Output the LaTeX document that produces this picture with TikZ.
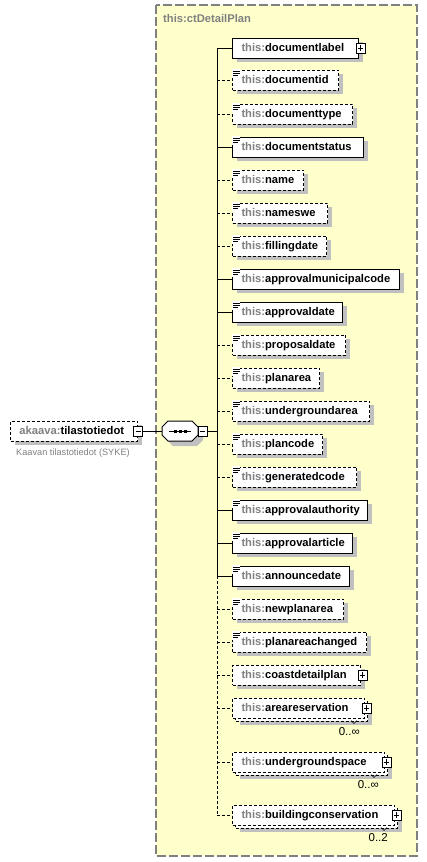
\documentclass[tikz,border=0pt]{standalone}
\usepackage{fontspec}
\setmainfont{Liberation Sans}
\usetikzlibrary{shadows}
\definecolor{ctyellow}{RGB}{255,255,204}
\definecolor{ctgray}{RGB}{128,128,128}
\definecolor{shadegray}{RGB}{192,192,192}
\newcommand{\thispre}{\textcolor{ctgray}{this:}}
\begin{document}
\begin{tikzpicture}[x=1pt, y=-1pt,
    elbase/.style = {draw, fill=white, line width=1pt, inner xsep=9pt, inner ysep=0pt,
        minimum height=20pt, text height=9pt, text depth=2pt, anchor=west,
        font=\fontsize{11.2}{13}\selectfont\bfseries},
    elem/.style = {elbase, drop shadow={shadow xshift=4pt, shadow yshift=-4pt, fill=shadegray, opacity=1}},
    multielem/.style = {elbase,
        drop shadow={shadow xshift=7pt, shadow yshift=-7pt, fill=shadegray, opacity=1},
        copy shadow={shadow xshift=3pt, shadow yshift=-3pt, draw=black, fill=white, line width=1pt, opt}},
    opt/.style = {dash pattern=on 3pt off 2pt},
    req/.style = {solid},
    link/.style = {line width=1pt},
    mult/.style = {inner sep=0pt, font=\fontsize{11.5}{13}\selectfont},
    seqbox/.style = {inner sep=0pt, minimum width=36pt, minimum height=20pt},
    docicon/.pic = {
        \fill[white] (-0.5,-0.5) rectangle (8,8);
        \draw[line width=1pt] (1,2) -- (8,2) (1,4) -- (8,4) (1,6) -- (6,6);
    },
    plusbox/.pic = {
        \draw[fill=white, line width=0.8pt, solid] (-4.5,-5) rectangle (4.5,5);
        \draw[line width=0.8pt, solid] (-2.5,0) -- (2.5,0) (0,-3) -- (0,3);
    },
    minusbox/.pic = {
        \draw[fill=white, line width=0.8pt, solid] (-4.5,-5) rectangle (4.5,5);
        \draw[line width=0.8pt, solid] (-2.5,0) -- (2.5,0);
    },
    octagon/.pic = {
        \path[pic actions] (-12,-10) -- (12,-10) -- (18,-4) -- (18,4) -- (12,10)
            -- (-12,10) -- (-18,4) -- (-18,-4) -- cycle;
    }]
    \useasboundingbox (0,0) rectangle (427,862);

    % complex type frame
    \draw[draw=ctgray, fill=ctyellow, line width=1.3pt, dash pattern=on 9pt off 3pt] (156,5) rectangle (417,856);
    \node[anchor=west, inner sep=0pt, text=ctgray, font=\fontsize{11.2}{13}\selectfont\bfseries] (ctname) at (163,18) {this:ctDetailPlan};

    % root element and sequence
    \node[elem, opt] (tilastotiedot) at (10,431) {\makebox[109pt][l]{\textcolor{ctgray}{akaava:}tilastotiedot}};
    \node[anchor=west, inner sep=0pt, text=ctgray, font=\fontsize{9.2}{11}\selectfont] (tilastodoc) at (16,453) {Kaavan tilastotiedot (SYKE)};
    \node[seqbox] (seq) at (180,431) {};
    \coordinate (fork) at (217,431);
    \draw[link] (tilastotiedot.east) -- (seq.west);
    \draw[link] (seq.east) -- (fork);
    \pic[fill=shadegray] at ([shift={(5,5)}]seq.center) {octagon};
    \pic[draw, fill=white, line width=1pt] at (seq.center) {octagon};
    \draw[link] ([xshift=-11pt]seq.center) -- ([xshift=11pt]seq.center);
    \foreach \dx in {-5,0,5}
        \fill ([xshift=\dx pt]seq.center) +(-1.5,-1.5) rectangle +(1.5,1.5);
    \pic at (tilastotiedot.east) {minusbox};
    \pic at ([xshift=4.5pt]seq.east) {minusbox};

    % simple elements
    \foreach \nm/\yy/\ww/\ls [evaluate=\ww as \tw using \ww-18] in {
        documentid/80/106/opt, documenttype/114/120/opt, documentstatus/147/131/req,
        name/180/71/opt, nameswe/213/95/opt, fillingdate/246/94/opt,
        approvalmunicipalcode/279/167/req, approvaldate/312/110/req, proposaldate/345/113/opt,
        planarea/378/87/opt, undergroundarea/411/137/opt, plancode/444/90/opt,
        generatedcode/477/124/opt, approvalauthority/510/135/req, approvalarticle/543/120/req,
        announcedate/576/117/req, newplanarea/609/111/opt, planareachanged/642/134/opt}
    {
        \node[elem, \ls] (\nm) at (232,\yy) {\makebox[\tw pt][l]{\thispre\nm}};
        \pic at (\nm.north west) {docicon};
        \draw[link, \ls] (fork |- \nm.west) -- (\nm.west);
    }

    % complex elements
    \node[elem, req] (documentlabel) at (232,48) {\makebox[108pt][l]{\thispre documentlabel}};
    \node[elem, opt] (coastdetailplan) at (232,675) {\makebox[110pt][l]{\thispre coastdetailplan}};
    \node[multielem, opt] (areareservation) at (232,708) {\makebox[114pt][l]{\thispre areareservation}};
    \node[multielem, opt] (undergroundspace) at (232,762) {\makebox[134pt][l]{\thispre undergroundspace}};
    \node[multielem, opt] (buildingconservation) at (232,815) {\makebox[144pt][l]{\thispre buildingconservation}};
    \draw[link] (fork |- documentlabel.west) -- (documentlabel.west);
    \foreach \nm in {coastdetailplan, areareservation, undergroundspace, buildingconservation}
        \draw[link, opt] (fork |- \nm.west) -- (\nm.west);
    \foreach \nm in {documentlabel, coastdetailplan, areareservation, undergroundspace, buildingconservation}
        \pic at ([xshift=1.5pt]\nm.east) {plusbox};

    % occurrences
    \node[mult, anchor=east] (areareservation-n) at ([shift={(-5,24)}]areareservation.east) {0..∞};
    \node[mult, anchor=east] (undergroundspace-n) at ([shift={(-6,23)}]undergroundspace.east) {0..∞};
    \node[mult, anchor=east] (buildingconservation-n) at ([shift={(-7,23)}]buildingconservation.east) {0..2};
    \foreach \nm in {areareservation, undergroundspace, buildingconservation}
        \draw[line width=0.6pt] ([shift={(-14,2)}]\nm.south east) -- ++(3,3) -- ++(3,-3);

    % trunk
    \draw[link] (fork |- documentlabel.west) -- (fork |- announcedate.west);
    \draw[link, opt] (fork |- announcedate.west) -- (fork |- buildingconservation.west);
\end{tikzpicture}
\end{document}
